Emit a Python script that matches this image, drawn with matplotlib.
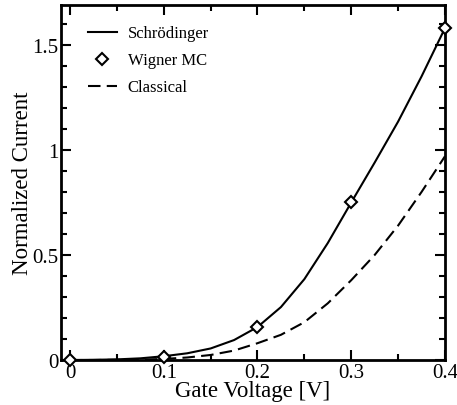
import matplotlib
matplotlib.use("Agg")
import matplotlib.pyplot as plt
from matplotlib.ticker import MultipleLocator

# Wigner MC points
v_mc = [0.0, 0.1, 0.2, 0.3, 0.4]
i_mc = [0.0, 0.015, 0.157, 0.75, 1.58]

# curves
v_curve = [0.0, 0.025, 0.05, 0.075, 0.1, 0.125, 0.15, 0.175, 0.2,
           0.225, 0.25, 0.275, 0.3, 0.325, 0.35, 0.375, 0.4]
i_schrod = [0.0, 0.001, 0.003, 0.008, 0.018, 0.032, 0.055, 0.095, 0.157,
            0.252, 0.385, 0.557, 0.75, 0.94, 1.135, 1.35, 1.58]
i_class = [0.0, 0.0, 0.001, 0.002, 0.005, 0.012, 0.024, 0.045, 0.08,
           0.12, 0.18, 0.27, 0.38, 0.50, 0.64, 0.80, 0.97]

plt.rcParams["font.family"] = ["Liberation Serif", "DejaVu Serif"]

fig = plt.figure(figsize=(4.57, 4.06), dpi=100)
ax = fig.add_axes([0.1335, 0.1108, 0.8402, 0.8744])

ax.plot(v_curve, i_schrod, "-", color="black", lw=1.5, label="Schrödinger")
ax.plot(v_mc, i_mc, "D", color="black", mfc="white", mec="black", ms=6.5,
        mew=1.5, clip_on=False, zorder=5, label="Wigner MC")
ax.plot(v_curve, i_class, "--", color="black", lw=1.5, dashes=(6, 3),
        label="Classical")

ax.set_xlim(-0.0096, 0.4)
ax.set_ylim(0, 1.69)
ax.xaxis.set_minor_locator(MultipleLocator(0.05))
ax.yaxis.set_minor_locator(MultipleLocator(0.1))
ax.set_xticks([0, 0.1, 0.2, 0.3, 0.4])
ax.set_xticklabels(["0", "0.1", "0.2", "0.3", "0.4"])
ax.set_yticks([0, 0.5, 1, 1.5])
ax.set_yticklabels(["0", "0.5", "1", "1.5"])

ax.tick_params(which="both", direction="in", top=True, right=True,
               labelsize=15, width=1.5)
ax.tick_params(which="major", length=7, pad=2)
ax.tick_params(which="minor", length=4.5)
for s in ax.spines.values():
    s.set_linewidth(2)

ax.set_xlabel("Gate Voltage [V]", fontsize=16.5, labelpad=-1)
ax.set_ylabel("Normalized Current", fontsize=16.5, labelpad=-1)

ax.legend(loc="upper left", bbox_to_anchor=(0.032, 0.985), frameon=False,
          fontsize=12, handlelength=1.7, handletextpad=0.66, labelspacing=0.66)

fig.savefig("out.png", dpi=100)
